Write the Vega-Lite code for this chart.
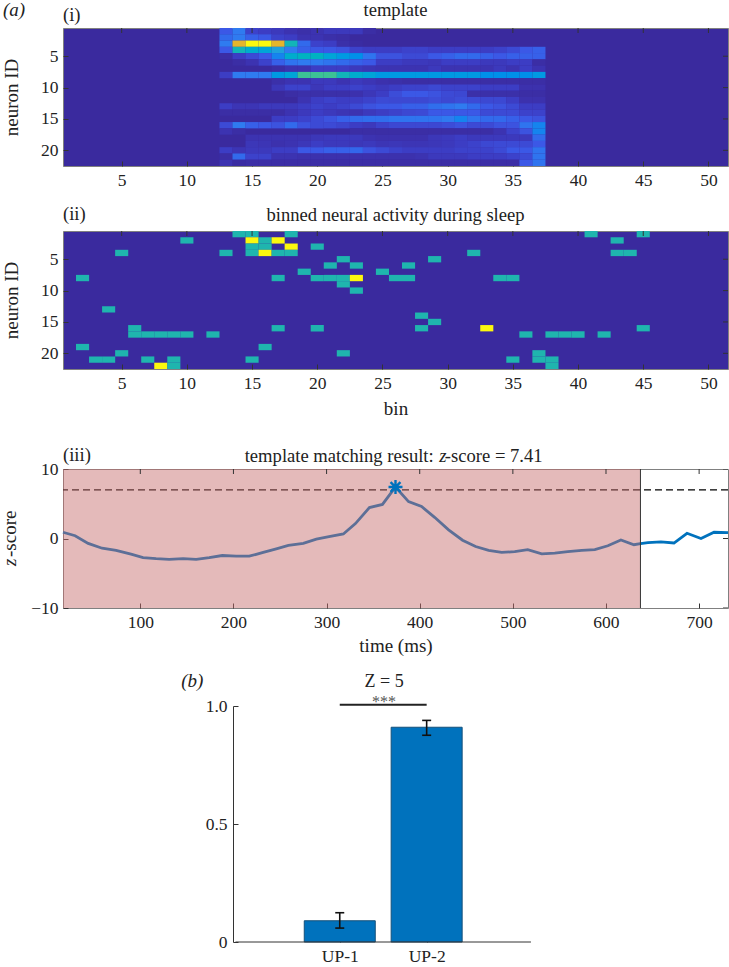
{
"$schema":"https://vega.github.io/schema/vega-lite/v6.json",
"background":"white",
"padding":{"left":0,"top":0,"right":0,"bottom":0},
"config":{"font":"Liberation Serif",
"view":{"stroke":null},
"axis":{"labelFont":"Liberation Serif","titleFont":"Liberation Serif","labelFontSize":17.5,"titleFontSize":19,"titleFontWeight":"normal","tickColor":"#333333","domainColor":"#666666","grid":false,"labelColor":"#222222","titleColor":"#222222","tickSize":-5,"labelPadding":10,"zindex":1,"labelAngle":0},
"text":{"font":"Liberation Serif","color":"#222222","baseline":"alphabetic"}},
"datasets":{
"tpl":[
{"x":13,"y":1,"v":0.2},{"x":14,"y":1,"v":0.3},{"x":15,"y":1,"v":0.12},{"x":16,"y":1,"v":0.1},{"x":17,"y":1,"v":0.08},{"x":18,"y":1,"v":0.05},{"x":19,"y":1,"v":0.03},{"x":20,"y":1,"v":0.05},{"x":21,"y":1,"v":0.08},{"x":22,"y":1,"v":0.08},{"x":23,"y":1,"v":0.08},{"x":24,"y":1,"v":0.02},
{"x":13,"y":2,"v":0.25},{"x":14,"y":2,"v":0.3},{"x":15,"y":2,"v":0.22},{"x":16,"y":2,"v":0.2},{"x":17,"y":2,"v":0.12},{"x":18,"y":2,"v":0.1},{"x":19,"y":2,"v":0.05},{"x":20,"y":2,"v":0.05},{"x":21,"y":2,"v":0.03},{"x":22,"y":2,"v":0.02},
{"x":13,"y":3,"v":0.3},{"x":14,"y":3,"v":0.85},{"x":15,"y":3,"v":1},{"x":16,"y":3,"v":1},{"x":17,"y":3,"v":0.85},{"x":18,"y":3,"v":0.5},{"x":19,"y":3,"v":0.25},{"x":20,"y":3,"v":0.12},{"x":21,"y":3,"v":0.1},{"x":22,"y":3,"v":0.03},{"x":23,"y":3,"v":0.01},
{"x":13,"y":4,"v":0.2},{"x":14,"y":4,"v":0.5},{"x":15,"y":4,"v":0.45},{"x":16,"y":4,"v":0.42},{"x":17,"y":4,"v":0.4},{"x":18,"y":4,"v":0.3},{"x":19,"y":4,"v":0.22},{"x":20,"y":4,"v":0.2},{"x":21,"y":4,"v":0.2},{"x":22,"y":4,"v":0.18},{"x":23,"y":4,"v":0.12},{"x":24,"y":4,"v":0.1},{"x":25,"y":4,"v":0.1},{"x":26,"y":4,"v":0.1},{"x":27,"y":4,"v":0.12},{"x":28,"y":4,"v":0.12},{"x":29,"y":4,"v":0.1},{"x":30,"y":4,"v":0.1},{"x":31,"y":4,"v":0.1},{"x":32,"y":4,"v":0.1},{"x":33,"y":4,"v":0.1},{"x":34,"y":4,"v":0.12},{"x":35,"y":4,"v":0.15},{"x":36,"y":4,"v":0.2},{"x":37,"y":4,"v":0.22},
{"x":13,"y":5,"v":0.02},{"x":14,"y":5,"v":0.1},{"x":15,"y":5,"v":0.15},{"x":16,"y":5,"v":0.2},{"x":17,"y":5,"v":0.32},{"x":18,"y":5,"v":0.45},{"x":19,"y":5,"v":0.48},{"x":20,"y":5,"v":0.48},{"x":21,"y":5,"v":0.42},{"x":22,"y":5,"v":0.38},{"x":23,"y":5,"v":0.35},{"x":24,"y":5,"v":0.28},{"x":25,"y":5,"v":0.18},{"x":26,"y":5,"v":0.18},{"x":27,"y":5,"v":0.15},{"x":28,"y":5,"v":0.15},{"x":29,"y":5,"v":0.2},{"x":30,"y":5,"v":0.22},{"x":31,"y":5,"v":0.25},{"x":32,"y":5,"v":0.25},{"x":33,"y":5,"v":0.22},{"x":34,"y":5,"v":0.2},{"x":35,"y":5,"v":0.22},{"x":36,"y":5,"v":0.22},{"x":37,"y":5,"v":0.22},
{"x":14,"y":6,"v":0.02},{"x":15,"y":6,"v":0.05},{"x":16,"y":6,"v":0.12},{"x":17,"y":6,"v":0.22},{"x":18,"y":6,"v":0.28},{"x":19,"y":6,"v":0.3},{"x":20,"y":6,"v":0.3},{"x":21,"y":6,"v":0.28},{"x":22,"y":6,"v":0.25},{"x":23,"y":6,"v":0.22},{"x":24,"y":6,"v":0.2},{"x":25,"y":6,"v":0.1},{"x":26,"y":6,"v":0.1},{"x":27,"y":6,"v":0.08},{"x":28,"y":6,"v":0.08},{"x":29,"y":6,"v":0.07},{"x":30,"y":6,"v":0.1},{"x":31,"y":6,"v":0.1},{"x":32,"y":6,"v":0.1},{"x":33,"y":6,"v":0.08},{"x":34,"y":6,"v":0.08},{"x":35,"y":6,"v":0.1},{"x":36,"y":6,"v":0.1},{"x":37,"y":6,"v":0.02},
{"x":17,"y":7,"v":0.02},{"x":18,"y":7,"v":0.05},{"x":19,"y":7,"v":0.05},{"x":20,"y":7,"v":0.1},{"x":21,"y":7,"v":0.1},{"x":22,"y":7,"v":0.1},{"x":23,"y":7,"v":0.08},{"x":24,"y":7,"v":0.06},{"x":25,"y":7,"v":0.05},{"x":26,"y":7,"v":0.05},{"x":27,"y":7,"v":0.05},{"x":28,"y":7,"v":0.05},{"x":29,"y":7,"v":0.08},{"x":30,"y":7,"v":0.05},{"x":31,"y":7,"v":0.05},{"x":32,"y":7,"v":0.05},{"x":33,"y":7,"v":0.05},{"x":34,"y":7,"v":0.08},{"x":35,"y":7,"v":0.05},{"x":36,"y":7,"v":0.1},{"x":37,"y":7,"v":0.05},
{"x":13,"y":8,"v":0.1},{"x":14,"y":8,"v":0.3},{"x":15,"y":8,"v":0.3},{"x":16,"y":8,"v":0.3},{"x":17,"y":8,"v":0.38},{"x":18,"y":8,"v":0.42},{"x":19,"y":8,"v":0.6},{"x":20,"y":8,"v":0.6},{"x":21,"y":8,"v":0.6},{"x":22,"y":8,"v":0.5},{"x":23,"y":8,"v":0.45},{"x":24,"y":8,"v":0.42},{"x":25,"y":8,"v":0.38},{"x":26,"y":8,"v":0.38},{"x":27,"y":8,"v":0.38},{"x":28,"y":8,"v":0.38},{"x":29,"y":8,"v":0.38},{"x":30,"y":8,"v":0.38},{"x":31,"y":8,"v":0.38},{"x":32,"y":8,"v":0.38},{"x":33,"y":8,"v":0.35},{"x":34,"y":8,"v":0.35},{"x":35,"y":8,"v":0.35},{"x":36,"y":8,"v":0.35},{"x":37,"y":8,"v":0.38},
{"x":17,"y":9,"v":0.03},{"x":18,"y":9,"v":0.05},{"x":19,"y":9,"v":0.05},{"x":20,"y":9,"v":0.08},{"x":21,"y":9,"v":0.08},{"x":22,"y":9,"v":0.05},{"x":23,"y":9,"v":0.08},{"x":24,"y":9,"v":0.06},{"x":25,"y":9,"v":0.04},{"x":26,"y":9,"v":0.03},{"x":27,"y":9,"v":0.02},{"x":28,"y":9,"v":0.02},{"x":29,"y":9,"v":0.02},{"x":30,"y":9,"v":0.02},{"x":31,"y":9,"v":0.02},{"x":32,"y":9,"v":0.02},{"x":33,"y":9,"v":0.02},{"x":34,"y":9,"v":0.02},{"x":35,"y":9,"v":0.02},{"x":36,"y":9,"v":0.02},{"x":37,"y":9,"v":0.02},
{"x":17,"y":10,"v":0.07},{"x":18,"y":10,"v":0.12},{"x":19,"y":10,"v":0.12},{"x":20,"y":10,"v":0.07},{"x":21,"y":10,"v":0.1},{"x":22,"y":10,"v":0.1},{"x":23,"y":10,"v":0.12},{"x":24,"y":10,"v":0.1},{"x":25,"y":10,"v":0.08},{"x":26,"y":10,"v":0.1},{"x":27,"y":10,"v":0.12},{"x":28,"y":10,"v":0.12},{"x":29,"y":10,"v":0.14},{"x":30,"y":10,"v":0.12},{"x":31,"y":10,"v":0.12},{"x":32,"y":10,"v":0.12},{"x":33,"y":10,"v":0.1},{"x":34,"y":10,"v":0.1},{"x":35,"y":10,"v":0.1},{"x":36,"y":10,"v":0.04},{"x":37,"y":10,"v":0.04},
{"x":18,"y":11,"v":0.02},{"x":19,"y":11,"v":0.03},{"x":20,"y":11,"v":0.03},{"x":21,"y":11,"v":0.03},{"x":22,"y":11,"v":0.03},{"x":23,"y":11,"v":0.04},{"x":24,"y":11,"v":0.07},{"x":25,"y":11,"v":0.1},{"x":26,"y":11,"v":0.16},{"x":27,"y":11,"v":0.2},{"x":28,"y":11,"v":0.2},{"x":29,"y":11,"v":0.18},{"x":30,"y":11,"v":0.15},{"x":31,"y":11,"v":0.14},{"x":32,"y":11,"v":0.03},{"x":33,"y":11,"v":0.03},{"x":34,"y":11,"v":0.03},{"x":35,"y":11,"v":0.03},{"x":36,"y":11,"v":0.02},{"x":37,"y":11,"v":0.02},
{"x":19,"y":12,"v":0.05},{"x":20,"y":12,"v":0.1},{"x":21,"y":12,"v":0.12},{"x":22,"y":12,"v":0.1},{"x":23,"y":12,"v":0.1},{"x":24,"y":12,"v":0.12},{"x":25,"y":12,"v":0.15},{"x":26,"y":12,"v":0.14},{"x":27,"y":12,"v":0.14},{"x":28,"y":12,"v":0.14},{"x":29,"y":12,"v":0.16},{"x":30,"y":12,"v":0.14},{"x":31,"y":12,"v":0.16},{"x":32,"y":12,"v":0.15},{"x":33,"y":12,"v":0.14},{"x":34,"y":12,"v":0.14},{"x":35,"y":12,"v":0.1},{"x":36,"y":12,"v":0.04},{"x":37,"y":12,"v":0.04},
{"x":13,"y":13,"v":0.1},{"x":14,"y":13,"v":0.06},{"x":15,"y":13,"v":0.06},{"x":16,"y":13,"v":0.08},{"x":17,"y":13,"v":0.08},{"x":18,"y":13,"v":0.08},{"x":19,"y":13,"v":0.1},{"x":20,"y":13,"v":0.12},{"x":21,"y":13,"v":0.1},{"x":22,"y":13,"v":0.12},{"x":23,"y":13,"v":0.15},{"x":24,"y":13,"v":0.18},{"x":25,"y":13,"v":0.2},{"x":26,"y":13,"v":0.2},{"x":27,"y":13,"v":0.22},{"x":28,"y":13,"v":0.22},{"x":29,"y":13,"v":0.26},{"x":30,"y":13,"v":0.28},{"x":31,"y":13,"v":0.3},{"x":32,"y":13,"v":0.25},{"x":33,"y":13,"v":0.2},{"x":34,"y":13,"v":0.18},{"x":35,"y":13,"v":0.15},{"x":36,"y":13,"v":0.1},{"x":37,"y":13,"v":0.1},
{"x":13,"y":14,"v":0.02},{"x":14,"y":14,"v":0.02},{"x":15,"y":14,"v":0.02},{"x":16,"y":14,"v":0.02},{"x":17,"y":14,"v":0.02},{"x":18,"y":14,"v":0.05},{"x":19,"y":14,"v":0.08},{"x":20,"y":14,"v":0.1},{"x":21,"y":14,"v":0.08},{"x":22,"y":14,"v":0.06},{"x":23,"y":14,"v":0.05},{"x":24,"y":14,"v":0.08},{"x":25,"y":14,"v":0.1},{"x":26,"y":14,"v":0.12},{"x":27,"y":14,"v":0.14},{"x":28,"y":14,"v":0.15},{"x":29,"y":14,"v":0.2},{"x":30,"y":14,"v":0.2},{"x":31,"y":14,"v":0.2},{"x":32,"y":14,"v":0.2},{"x":33,"y":14,"v":0.15},{"x":34,"y":14,"v":0.15},{"x":35,"y":14,"v":0.15},{"x":36,"y":14,"v":0.12},{"x":37,"y":14,"v":0.12},
{"x":17,"y":15,"v":0.1},{"x":18,"y":15,"v":0.1},{"x":19,"y":15,"v":0.12},{"x":20,"y":15,"v":0.15},{"x":21,"y":15,"v":0.18},{"x":22,"y":15,"v":0.22},{"x":23,"y":15,"v":0.25},{"x":24,"y":15,"v":0.26},{"x":25,"y":15,"v":0.26},{"x":26,"y":15,"v":0.28},{"x":27,"y":15,"v":0.28},{"x":28,"y":15,"v":0.28},{"x":29,"y":15,"v":0.28},{"x":30,"y":15,"v":0.3},{"x":31,"y":15,"v":0.32},{"x":32,"y":15,"v":0.28},{"x":33,"y":15,"v":0.25},{"x":34,"y":15,"v":0.25},{"x":35,"y":15,"v":0.22},{"x":36,"y":15,"v":0.2},{"x":37,"y":15,"v":0.18},
{"x":13,"y":16,"v":0.15},{"x":14,"y":16,"v":0.3},{"x":15,"y":16,"v":0.22},{"x":16,"y":16,"v":0.2},{"x":17,"y":16,"v":0.18},{"x":18,"y":16,"v":0.25},{"x":19,"y":16,"v":0.18},{"x":20,"y":16,"v":0.15},{"x":21,"y":16,"v":0.15},{"x":22,"y":16,"v":0.13},{"x":23,"y":16,"v":0.1},{"x":24,"y":16,"v":0.08},{"x":25,"y":16,"v":0.12},{"x":26,"y":16,"v":0.14},{"x":27,"y":16,"v":0.14},{"x":28,"y":16,"v":0.14},{"x":29,"y":16,"v":0.14},{"x":30,"y":16,"v":0.16},{"x":31,"y":16,"v":0.18},{"x":32,"y":16,"v":0.15},{"x":33,"y":16,"v":0.15},{"x":34,"y":16,"v":0.18},{"x":35,"y":16,"v":0.18},{"x":36,"y":16,"v":0.28},{"x":37,"y":16,"v":0.32},
{"x":13,"y":17,"v":0.05},{"x":14,"y":17,"v":0.02},{"x":23,"y":17,"v":0.02},{"x":24,"y":17,"v":0.02},{"x":25,"y":17,"v":0.02},{"x":26,"y":17,"v":0.02},{"x":27,"y":17,"v":0.02},{"x":28,"y":17,"v":0.02},{"x":29,"y":17,"v":0.02},{"x":30,"y":17,"v":0.02},{"x":31,"y":17,"v":0.02},{"x":32,"y":17,"v":0.02},{"x":33,"y":17,"v":0.02},{"x":34,"y":17,"v":0.05},{"x":35,"y":17,"v":0.12},{"x":36,"y":17,"v":0.18},{"x":37,"y":17,"v":0.32},
{"x":15,"y":18,"v":0.05},{"x":16,"y":18,"v":0.05},{"x":17,"y":18,"v":0.05},{"x":18,"y":18,"v":0.05},{"x":19,"y":18,"v":0.05},{"x":20,"y":18,"v":0.07},{"x":21,"y":18,"v":0.08},{"x":22,"y":18,"v":0.08},{"x":23,"y":18,"v":0.08},{"x":24,"y":18,"v":0.05},{"x":25,"y":18,"v":0.04},{"x":26,"y":18,"v":0.04},{"x":27,"y":18,"v":0.04},{"x":28,"y":18,"v":0.04},{"x":29,"y":18,"v":0.07},{"x":30,"y":18,"v":0.08},{"x":31,"y":18,"v":0.1},{"x":32,"y":18,"v":0.08},{"x":33,"y":18,"v":0.08},{"x":34,"y":18,"v":0.08},{"x":35,"y":18,"v":0.08},{"x":36,"y":18,"v":0.08},{"x":37,"y":18,"v":0.25},
{"x":15,"y":19,"v":0.07},{"x":16,"y":19,"v":0.06},{"x":17,"y":19,"v":0.04},{"x":18,"y":19,"v":0.05},{"x":19,"y":19,"v":0.07},{"x":20,"y":19,"v":0.1},{"x":21,"y":19,"v":0.08},{"x":22,"y":19,"v":0.08},{"x":23,"y":19,"v":0.07},{"x":24,"y":19,"v":0.08},{"x":25,"y":19,"v":0.06},{"x":26,"y":19,"v":0.07},{"x":27,"y":19,"v":0.06},{"x":28,"y":19,"v":0.06},{"x":29,"y":19,"v":0.07},{"x":30,"y":19,"v":0.08},{"x":31,"y":19,"v":0.1},{"x":32,"y":19,"v":0.12},{"x":33,"y":19,"v":0.14},{"x":34,"y":19,"v":0.15},{"x":35,"y":19,"v":0.15},{"x":36,"y":19,"v":0.15},{"x":37,"y":19,"v":0.2},
{"x":13,"y":20,"v":0.1},{"x":14,"y":20,"v":0.06},{"x":15,"y":20,"v":0.08},{"x":16,"y":20,"v":0.08},{"x":17,"y":20,"v":0.1},{"x":18,"y":20,"v":0.1},{"x":19,"y":20,"v":0.2},{"x":20,"y":20,"v":0.2},{"x":21,"y":20,"v":0.22},{"x":22,"y":20,"v":0.22},{"x":23,"y":20,"v":0.24},{"x":24,"y":20,"v":0.18},{"x":25,"y":20,"v":0.15},{"x":26,"y":20,"v":0.12},{"x":27,"y":20,"v":0.1},{"x":28,"y":20,"v":0.1},{"x":29,"y":20,"v":0.1},{"x":30,"y":20,"v":0.1},{"x":31,"y":20,"v":0.12},{"x":32,"y":20,"v":0.12},{"x":33,"y":20,"v":0.12},{"x":34,"y":20,"v":0.15},{"x":35,"y":20,"v":0.2},{"x":36,"y":20,"v":0.2},{"x":37,"y":20,"v":0.28},
{"x":13,"y":21,"v":0.02},{"x":14,"y":21,"v":0.25},{"x":15,"y":21,"v":0.12},{"x":16,"y":21,"v":0.12},{"x":17,"y":21,"v":0.05},{"x":18,"y":21,"v":0.05},{"x":19,"y":21,"v":0.04},{"x":20,"y":21,"v":0.04},{"x":21,"y":21,"v":0.04},{"x":22,"y":21,"v":0.04},{"x":23,"y":21,"v":0.04},{"x":24,"y":21,"v":0.04},{"x":25,"y":21,"v":0.04},{"x":26,"y":21,"v":0.04},{"x":27,"y":21,"v":0.04},{"x":28,"y":21,"v":0.05},{"x":29,"y":21,"v":0.08},{"x":30,"y":21,"v":0.08},{"x":31,"y":21,"v":0.08},{"x":32,"y":21,"v":0.1},{"x":33,"y":21,"v":0.1},{"x":34,"y":21,"v":0.1},{"x":35,"y":21,"v":0.12},{"x":36,"y":21,"v":0.15},{"x":37,"y":21,"v":0.28},
{"x":13,"y":22,"v":0.05},{"x":14,"y":22,"v":0.01},{"x":15,"y":22,"v":0.02},{"x":16,"y":22,"v":0.02},{"x":17,"y":22,"v":0.02},{"x":18,"y":22,"v":0.02},{"x":19,"y":22,"v":0.02},{"x":20,"y":22,"v":0.02},{"x":21,"y":22,"v":0.02},{"x":22,"y":22,"v":0.02},{"x":23,"y":22,"v":0.02},{"x":24,"y":22,"v":0.02},{"x":25,"y":22,"v":0.02},{"x":26,"y":22,"v":0.02},{"x":27,"y":22,"v":0.02},{"x":28,"y":22,"v":0.02},{"x":29,"y":22,"v":0.02},{"x":30,"y":22,"v":0.02},{"x":31,"y":22,"v":0.02},{"x":32,"y":22,"v":0.02},{"x":33,"y":22,"v":0.02},{"x":34,"y":22,"v":0.02},{"x":35,"y":22,"v":0.02},{"x":36,"y":22,"v":0.2},{"x":37,"y":22,"v":0.28}
],
"act":[
{"x":14,"y":1,"v":1},{"x":15,"y":1,"v":1},{"x":18,"y":1,"v":1},{"x":41,"y":1,"v":1},{"x":45,"y":1,"v":1},
{"x":10,"y":2,"v":1},{"x":15,"y":2,"v":2},{"x":16,"y":2,"v":1},{"x":17,"y":2,"v":2},{"x":43,"y":2,"v":1},
{"x":15,"y":3,"v":1},{"x":16,"y":3,"v":1},{"x":18,"y":3,"v":2},{"x":20,"y":3,"v":1},
{"x":5,"y":4,"v":1},{"x":13,"y":4,"v":1},{"x":15,"y":4,"v":1},{"x":16,"y":4,"v":2},{"x":17,"y":4,"v":1},{"x":18,"y":4,"v":1},{"x":32,"y":4,"v":1},{"x":43,"y":4,"v":1},{"x":44,"y":4,"v":1},
{"x":22,"y":5,"v":1},{"x":29,"y":5,"v":1},
{"x":21,"y":6,"v":1},{"x":23,"y":6,"v":1},{"x":27,"y":6,"v":1},
{"x":19,"y":7,"v":1},{"x":25,"y":7,"v":1},
{"x":2,"y":8,"v":1},{"x":17,"y":8,"v":1},{"x":20,"y":8,"v":1},{"x":21,"y":8,"v":1},{"x":22,"y":8,"v":1},{"x":23,"y":8,"v":2},{"x":26,"y":8,"v":1},{"x":27,"y":8,"v":1},{"x":34,"y":8,"v":1},{"x":35,"y":8,"v":1},
{"x":22,"y":9,"v":1},
{"x":23,"y":10,"v":1},
{"x":4,"y":13,"v":1},
{"x":28,"y":14,"v":1},
{"x":29,"y":15,"v":1},
{"x":6,"y":16,"v":1},{"x":17,"y":16,"v":1},{"x":20,"y":16,"v":1},{"x":28,"y":16,"v":1},{"x":33,"y":16,"v":2},{"x":45,"y":16,"v":1},
{"x":6,"y":17,"v":1},{"x":7,"y":17,"v":1},{"x":8,"y":17,"v":1},{"x":9,"y":17,"v":1},{"x":10,"y":17,"v":1},{"x":12,"y":17,"v":1},{"x":36,"y":17,"v":1},{"x":38,"y":17,"v":1},{"x":39,"y":17,"v":1},{"x":40,"y":17,"v":1},{"x":42,"y":17,"v":1},
{"x":2,"y":19,"v":1},{"x":16,"y":19,"v":1},
{"x":5,"y":20,"v":1},{"x":22,"y":20,"v":1},{"x":37,"y":20,"v":1},
{"x":3,"y":21,"v":1},{"x":4,"y":21,"v":1},{"x":7,"y":21,"v":1},{"x":9,"y":21,"v":1},{"x":15,"y":21,"v":1},{"x":35,"y":21,"v":1},{"x":37,"y":21,"v":1},{"x":38,"y":21,"v":1},
{"x":8,"y":22,"v":2},{"x":9,"y":22,"v":1},{"x":38,"y":22,"v":1}
],
"topticks":[{"x":5,"y":0.5},{"x":10,"y":0.5},{"x":15,"y":0.5},{"x":20,"y":0.5},{"x":25,"y":0.5},{"x":30,"y":0.5},{"x":35,"y":0.5},{"x":40,"y":0.5},{"x":45,"y":0.5},{"x":50,"y":0.5}],
"rightticks":[{"x":51.5,"y":5},{"x":51.5,"y":10},{"x":51.5,"y":15},{"x":51.5,"y":20}],
"z":[
{"t":17,"z":0.9},{"t":30,"z":0.4},{"t":44,"z":-0.7},{"t":59,"z":-1.4},{"t":74,"z":-1.7},{"t":90,"z":-2.25},{"t":103,"z":-2.75},{"t":117,"z":-2.9},{"t":131,"z":-3.0},{"t":146,"z":-2.9},{"t":160,"z":-3.0},{"t":174,"z":-2.75},{"t":188,"z":-2.45},{"t":203,"z":-2.55},{"t":217,"z":-2.55},{"t":232,"z":-2.0},{"t":246,"z":-1.5},{"t":259,"z":-1.0},{"t":275,"z":-0.7},{"t":289,"z":-0.1},{"t":304,"z":0.3},{"t":318,"z":0.65},{"t":331,"z":2.15},{"t":346,"z":4.45},{"t":360,"z":4.9},{"t":374,"z":7.41},{"t":388,"z":5.3},{"t":402,"z":4.6},{"t":416,"z":3.05},{"t":431,"z":1.25},{"t":446,"z":-0.25},{"t":460,"z":-1.15},{"t":474,"z":-1.7},{"t":488,"z":-2.0},{"t":502,"z":-1.9},{"t":516,"z":-1.6},{"t":531,"z":-2.2},{"t":545,"z":-2.1},{"t":559,"z":-1.9},{"t":574,"z":-1.7},{"t":588,"z":-1.6},{"t":602,"z":-1.05},{"t":616,"z":-0.2},{"t":630,"z":-0.9},{"t":637,"z":-0.75},{"t":645,"z":-0.6},{"t":659,"z":-0.5},{"t":673,"z":-0.65},{"t":687,"z":0.75},{"t":702,"z":0},{"t":716,"z":0.9},{"t":731,"z":0.85}
],
"bars":[{"c":1,"p":0.09,"lo":0.059,"hi":0.124},{"c":2,"p":0.91,"lo":0.876,"hi":0.939}]
},
"bounds":"flush",
"spacing":0,
"vconcat":[
{"width":665,"height":138,"view":{"fill":"#3a2a9e","stroke":"#808080"},
"layer":[
{"data":{"name":"tpl"},"mark":{"type":"rect","width":13.1,"height":6.32},
"encoding":{"x":{"field":"x","type":"quantitative","scale":{"domain":[0.5,51.5],"nice":false,"zero":false},"axis":{"values":[5,10,15,20,25,30,35,40,45,50],"title":null,"domain":false}},
"y":{"field":"y","type":"quantitative","scale":{"domain":[22.5,0.5],"nice":false,"zero":false},"axis":{"values":[5,10,15,20],"title":"neuron ID","domain":false,"titlePadding":19}},
"color":{"field":"v","type":"quantitative","legend":null,"scale":{"domain":[0,0.1,0.2,0.3,0.4,0.5,0.6,0.85,1],"range":["#3a2a9e","#3c3dc4","#3b58e6","#2f7bf0","#1fa0dc","#12b5b8","#3cc295","#e5b52c","#fbf90f"]}}}},
{"data":{"name":"topticks"},"mark":{"type":"tick","orient":"vertical","size":10,"thickness":1,"color":"#333333","opacity":1,"clip":true},
"encoding":{"x":{"field":"x","type":"quantitative"},"y":{"field":"y","type":"quantitative"}}},
{"data":{"name":"rightticks"},"mark":{"type":"tick","orient":"horizontal","size":10,"thickness":1,"color":"#333333","opacity":1,"clip":true},
"encoding":{"x":{"field":"x","type":"quantitative"},"y":{"field":"y","type":"quantitative"}}},
{"data":{"values":[{"x":0.5,"y":-0.62,"s":"(i)"}]},"mark":{"type":"text","align":"left","fontSize":18.6},
"encoding":{"x":{"field":"x","type":"quantitative"},"y":{"field":"y","type":"quantitative"},"text":{"field":"s"}}},
{"data":{"values":[{"x":26,"y":-1.41,"s":"template"}]},"mark":{"type":"text","align":"center","fontSize":18.6},
"encoding":{"x":{"field":"x","type":"quantitative"},"y":{"field":"y","type":"quantitative"},"text":{"field":"s"}}},
{"data":{"values":[{"x":-4.1,"y":-1.41,"s":"(a)"}]},"mark":{"type":"text","align":"left","fontSize":19,"fontStyle":"italic"},
"encoding":{"x":{"field":"x","type":"quantitative"},"y":{"field":"y","type":"quantitative"},"text":{"field":"s"}}}
]},
{"width":665,"height":65,"data":{"values":[{"g":0}]},"mark":{"type":"point","opacity":0},"encoding":{}},
{"width":665,"height":138,"view":{"fill":"#3a2a9e","stroke":"#808080"},
"layer":[
{"data":{"name":"act"},"mark":{"type":"rect","width":13.1,"height":6.32},
"encoding":{"x":{"field":"x","type":"quantitative","scale":{"domain":[0.5,51.5],"nice":false,"zero":false},"axis":{"values":[5,10,15,20,25,30,35,40,45,50],"title":"bin","domain":false,"titlePadding":8}},
"y":{"field":"y","type":"quantitative","scale":{"domain":[22.5,0.5],"nice":false,"zero":false},"axis":{"values":[5,10,15,20],"title":"neuron ID","domain":false,"titlePadding":19}},
"color":{"field":"v","type":"ordinal","legend":null,"scale":{"domain":[1,2],"range":["#1fb5ae","#fcf80e"]}}}},
{"data":{"name":"topticks"},"mark":{"type":"tick","orient":"vertical","size":10,"thickness":1,"color":"#333333","opacity":1,"clip":true},
"encoding":{"x":{"field":"x","type":"quantitative"},"y":{"field":"y","type":"quantitative"}}},
{"data":{"name":"rightticks"},"mark":{"type":"tick","orient":"horizontal","size":10,"thickness":1,"color":"#333333","opacity":1,"clip":true},
"encoding":{"x":{"field":"x","type":"quantitative"},"y":{"field":"y","type":"quantitative"}}},
{"data":{"values":[{"x":0.5,"y":-1.25,"s":"(ii)"}]},"mark":{"type":"text","align":"left","fontSize":18.6},
"encoding":{"x":{"field":"x","type":"quantitative"},"y":{"field":"y","type":"quantitative"},"text":{"field":"s"}}},
{"data":{"values":[{"x":26,"y":-1.1,"s":"binned neural activity during sleep"}]},"mark":{"type":"text","align":"center","fontSize":18.6},
"encoding":{"x":{"field":"x","type":"quantitative"},"y":{"field":"y","type":"quantitative"},"text":{"field":"s"}}}
]},
{"width":665,"height":100,"data":{"values":[{"g":0}]},"mark":{"type":"point","opacity":0},"encoding":{}},
{"width":665,"height":139,"view":{"fill":"white","stroke":"#808080"},
"layer":[
{"data":{"values":[{"h":7}]},"mark":{"type":"rule","color":"#000000","strokeWidth":1.4,"strokeDash":[7,4]},
"encoding":{"y":{"field":"h","type":"quantitative","scale":{"domain":[-10,10],"nice":false,"zero":false},"axis":{"values":[-10,0,10],"title":null,"domain":false}}}},
{"data":{"name":"z"},"mark":{"type":"line","color":"#0072bd","strokeWidth":2.8},
"encoding":{"x":{"field":"t","type":"quantitative","scale":{"domain":[17,731],"nice":false,"zero":false},"axis":{"values":[100,200,300,400,500,600,700],"title":"time (ms)","domain":false,"titlePadding":6}},"y":{"field":"z","type":"quantitative"}}},
{"data":{"values":[{"a":17,"b":637}]},"mark":{"type":"rect","color":"#c66c6c","opacity":0.47},
"encoding":{"x":{"field":"a","type":"quantitative"},"x2":{"field":"b"}}},
{"data":{"values":[{"a":637}]},"mark":{"type":"rule","color":"#333333","strokeWidth":1},
"encoding":{"x":{"field":"a","type":"quantitative"}}},
{"data":{"values":[{"t":100,"z":10},{"t":200,"z":10},{"t":300,"z":10},{"t":400,"z":10},{"t":500,"z":10},{"t":600,"z":10},{"t":700,"z":10}]},"mark":{"type":"tick","orient":"vertical","size":10,"thickness":1,"color":"#333333","opacity":1,"clip":true},
"encoding":{"x":{"field":"t","type":"quantitative"},"y":{"field":"z","type":"quantitative"}}},
{"data":{"values":[{"t":731,"z":-10},{"t":731,"z":0},{"t":731,"z":10}]},"mark":{"type":"tick","orient":"horizontal","size":10,"thickness":1,"color":"#333333","opacity":1,"clip":true},
"encoding":{"x":{"field":"t","type":"quantitative"},"y":{"field":"z","type":"quantitative"}}},
{"data":{"values":[{"t":374,"z":7.41}]},"mark":{"type":"point","shape":"M0,-1L0,1M-1,0L1,0M-0.71,-0.71L0.71,0.71M-0.71,0.71L0.71,-0.71","filled":false,"color":"#0072bd","strokeWidth":2.4,"size":196,"opacity":1},
"encoding":{"x":{"field":"t","type":"quantitative"},"y":{"field":"z","type":"quantitative"}}},
{"data":{"values":[{"x":17,"y":11.1,"s":"(iii)"}]},"mark":{"type":"text","align":"left","fontSize":18.6},
"encoding":{"x":{"field":"x","type":"quantitative"},"y":{"field":"y","type":"quantitative"},"text":{"field":"s"}}},
{"data":{"values":[{"x":415,"y":11,"s":"template matching result:"}]},"mark":{"type":"text","align":"right","fontSize":18.6},
"encoding":{"x":{"field":"x","type":"quantitative"},"y":{"field":"y","type":"quantitative"},"text":{"field":"s"}}},
{"data":{"values":[{"x":421,"y":11,"s":"z"}]},"mark":{"type":"text","align":"left","fontSize":18.6,"fontStyle":"italic"},
"encoding":{"x":{"field":"x","type":"quantitative"},"y":{"field":"y","type":"quantitative"},"text":{"field":"s"}}},
{"data":{"values":[{"x":427,"y":11,"s":"-score = 7.41"}]},"mark":{"type":"text","align":"left","fontSize":18.6},
"encoding":{"x":{"field":"x","type":"quantitative"},"y":{"field":"y","type":"quantitative"},"text":{"field":"s"}}},
{"data":{"values":[{"x":-33,"y":-3.96,"s":"z"}]},"mark":{"type":"text","align":"left","angle":270,"fontSize":19,"fontStyle":"italic"},
"encoding":{"x":{"field":"x","type":"quantitative"},"y":{"field":"y","type":"quantitative"},"text":{"field":"s"}}},
{"data":{"values":[{"x":-33,"y":-2.66,"s":"-score"}]},"mark":{"type":"text","align":"left","angle":270,"fontSize":19},
"encoding":{"x":{"field":"x","type":"quantitative"},"y":{"field":"y","type":"quantitative"},"text":{"field":"s"}}}
]},
{"width":665,"height":98,"data":{"values":[{"g":0}]},"mark":{"type":"point","opacity":0},"encoding":{}},
{"width":665,"height":236,
"layer":[
{"data":{"name":"bars"},"mark":{"type":"bar","color":"#0072bd","stroke":"#14507a","strokeWidth":1,"size":71},
"encoding":{"x":{"field":"c","type":"quantitative","scale":{"domain":[-2.127,5.41],"nice":false,"zero":false},"axis":{"values":[1,2],"title":null,"domain":false,"labelExpr":"datum.value == 1 ? 'UP-1' : 'UP-2'"}},
"y":{"field":"p","type":"quantitative","scale":{"domain":[0,1],"nice":false},"axis":{"values":[0,0.5,1],"title":null,"offset":-170,"labelPadding":11,"domainColor":"#333333","labelExpr":"datum.value == 0 ? '0' : format(datum.value, '.1f')"}}}},
{"data":{"name":"bars"},"mark":{"type":"rule","color":"#111111","strokeWidth":1.6},
"encoding":{"x":{"field":"c","type":"quantitative"},"y":{"field":"lo","type":"quantitative"},"y2":{"field":"hi"}}},
{"data":{"name":"bars"},"mark":{"type":"tick","orient":"horizontal","color":"#111111","size":9,"thickness":1.6,"opacity":1},
"encoding":{"x":{"field":"c","type":"quantitative"},"y":{"field":"lo","type":"quantitative"}}},
{"data":{"name":"bars"},"mark":{"type":"tick","orient":"horizontal","color":"#111111","size":9,"thickness":1.6,"opacity":1},
"encoding":{"x":{"field":"c","type":"quantitative"},"y":{"field":"hi","type":"quantitative"}}},
{"data":{"values":[{"a":-0.2,"b":3.2,"y":0}]},"mark":{"type":"rule","color":"#333333","strokeWidth":1},
"encoding":{"x":{"field":"a","type":"quantitative"},"x2":{"field":"b"},"y":{"field":"y","type":"quantitative"}}},
{"data":{"values":[{"a":1,"b":2,"y":1.005}]},"mark":{"type":"rule","color":"#222222","strokeWidth":2},
"encoding":{"x":{"field":"a","type":"quantitative"},"x2":{"field":"b"},"y":{"field":"y","type":"quantitative"}}},
{"data":{"values":[{"x":1.51,"y":1.08,"s":"Z = 5"}]},"mark":{"type":"text","align":"center","fontSize":18},
"encoding":{"x":{"field":"x","type":"quantitative"},"y":{"field":"y","type":"quantitative"},"text":{"field":"s"}}},
{"data":{"values":[{"x":1.51,"y":0.996,"s":"***"}]},"mark":{"type":"text","align":"center","fontSize":16,"color":"#555555"},
"encoding":{"x":{"field":"x","type":"quantitative"},"y":{"field":"y","type":"quantitative"},"text":{"field":"s"}}},
{"data":{"values":[{"x":-0.825,"y":1.08,"s":"(b)"}]},"mark":{"type":"text","align":"left","fontSize":19,"fontStyle":"italic"},
"encoding":{"x":{"field":"x","type":"quantitative"},"y":{"field":"y","type":"quantitative"},"text":{"field":"s"}}}
]}
]
}
